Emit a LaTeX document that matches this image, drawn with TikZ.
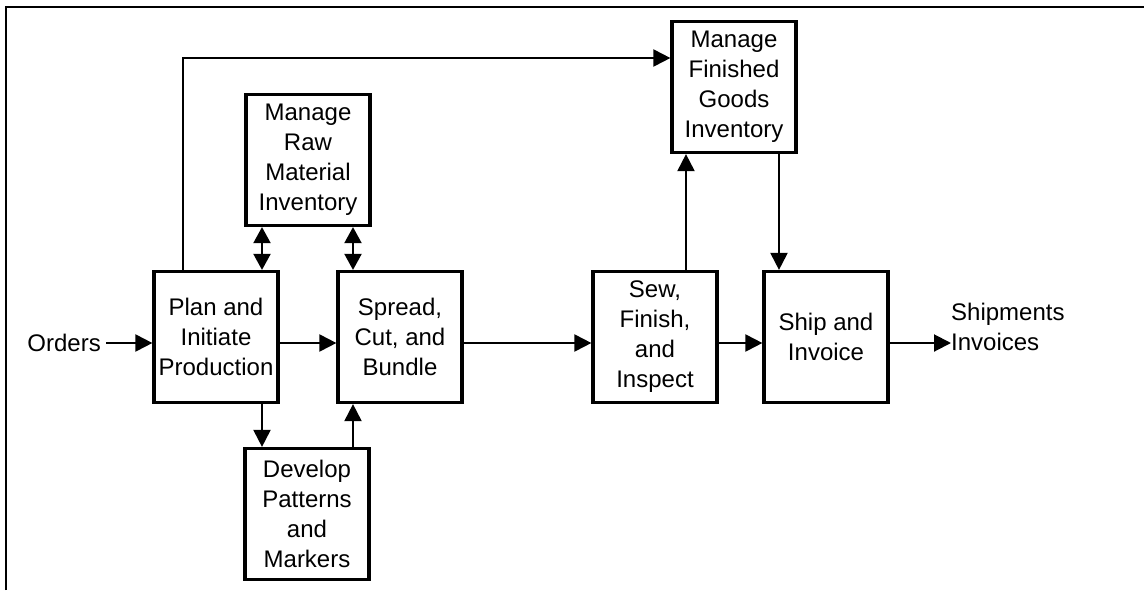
\documentclass[tikz,border=0pt]{standalone}
\usepackage{fontspec}
\setmainfont{Liberation Sans}
\usetikzlibrary{arrows.meta}
\begin{document}
\begin{tikzpicture}[x=1pt,y=-1pt]
\tikzstyle{proc} = [draw,line width=3.2pt,minimum width=124pt,minimum height=131pt,inner sep=0pt,align=center,font=\fontsize{24}{30}\selectfont]
\tikzstyle{lbl} = [inner sep=0pt,align=left,font=\fontsize{24}{30}\selectfont]
\tikzstyle{flow} = [line width=2pt,-{Triangle[length=17pt,width=17pt]}]
\tikzstyle{dflow} = [line width=2pt,{Triangle[length=16pt,width=17pt]}-{Triangle[length=16pt,width=17pt]}]
\useasboundingbox (0,0) rectangle (1144,590);
\draw[line width=2.5pt] (6,590) -- (6,7) -- (1144,7);
% boxes
\node[proc] (plan) at (216,337) {Plan and\\Initiate\\Production};
\node[proc] (spread) at (400,337) {Spread,\\Cut, and\\Bundle};
\node[proc] (sew) at (655,337) {Sew,\\Finish,\\and\\Inspect};
\node[proc] (ship) at (826,337) {Ship and\\Invoice};
\node[proc] (raw) at (308,160) {Manage\\Raw\\Material\\Inventory};
\node[proc] (finished) at (734,87) {Manage\\Finished\\Goods\\Inventory};
\node[proc] (develop) at (307,514) {Develop\\Patterns\\and\\Markers};
\node[lbl,anchor=east] (orders) at (101,343) {Orders};
\node[lbl,anchor=west] (out) at (951,327) {Shipments\\Invoices};
% routing points
\coordinate (k1) at (183,58);
\coordinate (k2) at (262,0);
\coordinate (k3) at (353,0);
\coordinate (k4) at (686,0);
\coordinate (k5) at (779,0);
% main row
\draw[flow,shorten <=5pt] (orders.east) -- (plan.west |- orders);
\draw[flow] (plan.east |- orders) -- (spread.west |- orders);
\draw[flow] (spread.east |- orders) -- (sew.west |- orders);
\draw[flow] (sew.east |- orders) -- (ship.west |- orders);
\draw[flow] (ship.east |- orders) -- (out.west |- orders);
% side flows
\draw[flow] (plan.north -| k1) -- (k1) -- (k1 -| finished.west);
\draw[dflow] (raw.south -| k2) -- (plan.north -| k2);
\draw[dflow] (raw.south -| k3) -- (spread.north -| k3);
\draw[flow] (plan.south -| k2) -- (develop.north -| k2);
\draw[flow] (develop.north -| k3) -- (spread.south -| k3);
\draw[flow] (sew.north -| k4) -- (finished.south -| k4);
\draw[flow] (finished.south -| k5) -- (ship.north -| k5);
\end{tikzpicture}
\end{document}
